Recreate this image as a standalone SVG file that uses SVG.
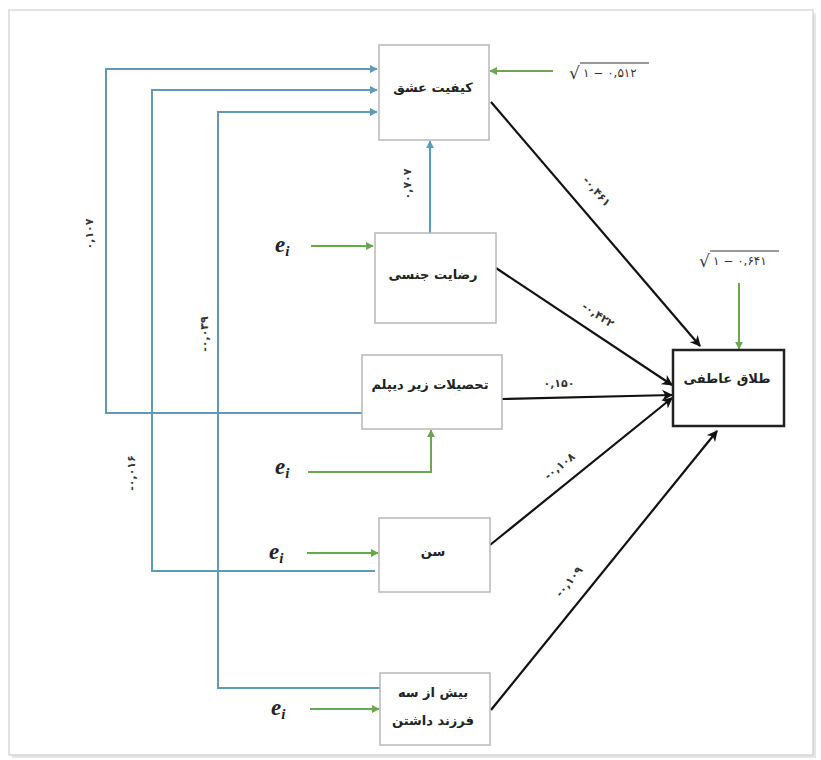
<svg xmlns="http://www.w3.org/2000/svg" width="821" height="760" viewBox="0 0 821 760">
<defs>
<marker id="ab" viewBox="0 0 10 10" refX="9" refY="5" markerWidth="8" markerHeight="8" markerUnits="userSpaceOnUse" orient="auto"><path d="M0,0 L10,5 L0,10 Z" fill="#5d9bb8"/></marker>
<marker id="ag" viewBox="0 0 10 10" refX="9" refY="5" markerWidth="8" markerHeight="8" markerUnits="userSpaceOnUse" orient="auto"><path d="M0,0 L10,5 L0,10 Z" fill="#6aa84f"/></marker>
<marker id="ak" viewBox="0 0 10 10" refX="9" refY="5" markerWidth="11" markerHeight="11" markerUnits="userSpaceOnUse" orient="auto"><path d="M0,0 L10,5 L0,10 L3,5 Z" fill="#111"/></marker>
</defs>
<style>
.box{fill:#fff;stroke:#b8b8b8;stroke-width:1.5}
.main{fill:#fff;stroke:#222;stroke-width:2.5}
.fa{font-family:"DejaVu Sans",sans-serif;font-size:13px;font-weight:bold;fill:#222;text-anchor:middle}
.num{font-family:"DejaVu Sans",sans-serif;font-size:11px;font-weight:bold;fill:#333;text-anchor:middle}
.sq{font-family:"DejaVu Sans",sans-serif;font-size:12px;fill:#333}
.rad{font-family:"DejaVu Sans",sans-serif;font-size:17px;fill:#333}
.e{font-family:"Liberation Serif",serif;font-size:23px;font-weight:bold;font-style:italic;fill:#222}
.bl{fill:none;stroke:#5d9bb8;stroke-width:2}
.gr{fill:none;stroke:#6aa84f;stroke-width:2}
.bk{fill:none;stroke:#111;stroke-width:2.2}
</style>
<rect x="12" y="13" width="804" height="745" fill="#e6e6e6"/>
<rect x="9" y="10" width="804" height="745" fill="#fff" stroke="#cfcfcf" stroke-width="1.2"/>

<g id="connectors">
<polyline class="bl" points="362,413 106,413 106,69 377,69" marker-end="url(#ab)"/>
<polyline class="bl" points="375,571 152,571 152,90 377,90" marker-end="url(#ab)"/>
<polyline class="bl" points="380,688 218,688 218,112 377,112" marker-end="url(#ab)"/>
<line class="bl" x1="430" y1="233" x2="430" y2="141" marker-end="url(#ab)"/>

<line class="gr" x1="553" y1="71" x2="490" y2="71" marker-end="url(#ag)"/>
<line class="gr" x1="311" y1="246" x2="373" y2="246" marker-end="url(#ag)"/>
<polyline class="gr" points="308,472 431,472 431,430" marker-end="url(#ag)"/>
<line class="gr" x1="307" y1="553" x2="378" y2="553" marker-end="url(#ag)"/>
<line class="gr" x1="310" y1="709" x2="379" y2="709" marker-end="url(#ag)"/>
<line class="gr" x1="739" y1="283" x2="739" y2="349" marker-end="url(#ag)"/>

<line class="bk" x1="491" y1="102" x2="700" y2="346" marker-end="url(#ak)"/>
<line class="bk" x1="496" y1="268" x2="672" y2="385" marker-end="url(#ak)"/>
<line class="bk" x1="502" y1="399" x2="672" y2="395" marker-end="url(#ak)"/>
<line class="bk" x1="490" y1="545" x2="672" y2="398" marker-end="url(#ak)"/>
<line class="bk" x1="491" y1="710" x2="717" y2="431" marker-end="url(#ak)"/>

<text class="num" transform="translate(594,194) rotate(49)">-۰,۴۶۱</text>
<text class="num" transform="translate(596,318) rotate(33.6)">-۰,۴۲۲</text>
<text class="num" x="559" y="387">۰,۱۵۰</text>
<text class="num" transform="translate(562,469) rotate(-39)">-۰,۱۰۸</text>
<text class="num" transform="translate(572,584) rotate(-51)">-۰,۱۰۹</text>
<text class="num" transform="translate(411,184) rotate(-90)">۰,۷۰۷</text>
<text class="num" transform="translate(93,234) rotate(-90)">۰,۱۰۷</text>
<text class="num" transform="translate(135,473) rotate(-90)">-۰,۰۱۶</text>
<text class="num" transform="translate(208,334) rotate(-90)">-۰,۰۳۹</text>

<text class="rad" x="569" y="79">√</text>
<line x1="580" y1="63" x2="649" y2="63" stroke="#333" stroke-width="1"/>
<text class="sq" x="583" y="77">۱ − ۰,۵۱۲</text>
<text class="rad" x="699" y="267">√</text>
<line x1="710" y1="251" x2="779" y2="251" stroke="#333" stroke-width="1"/>
<text class="sq" x="713" y="265">۱ − ۰,۶۴۱</text>

<text class="e" x="275" y="252">e<tspan font-size="15" dy="4">i</tspan></text>
<text class="e" x="275" y="474">e<tspan font-size="15" dy="4">i</tspan></text>
<text class="e" x="269" y="559">e<tspan font-size="15" dy="4">i</tspan></text>
<text class="e" x="271" y="715">e<tspan font-size="15" dy="4">i</tspan></text>
</g>

<g id="n-love"><rect class="box" x="379" y="45" width="110" height="95"/><text class="fa" x="433" y="92">کیفیت عشق</text></g>
<g id="n-sexual"><rect class="box" x="375" y="233" width="121" height="90"/><text class="fa" x="433" y="279">رضایت جنسی</text></g>
<g id="n-edu"><rect class="box" x="362" y="355" width="140" height="74"/><text class="fa" x="430" y="389">تحصیلات زیر دیپلم</text></g>
<g id="n-age"><rect class="box" x="379" y="518" width="111" height="74"/><text class="fa" x="433" y="556">سن</text></g>
<g id="n-children"><rect class="box" x="380" y="673" width="110" height="72"/><text class="fa" x="433" y="697">بیش از سه</text><text class="fa" x="433" y="725">فرزند داشتن</text></g>
<g id="n-divorce"><rect class="main" x="673" y="350" width="111" height="76"/><text class="fa" x="727" y="383">طلاق عاطفی</text></g>
</svg>
